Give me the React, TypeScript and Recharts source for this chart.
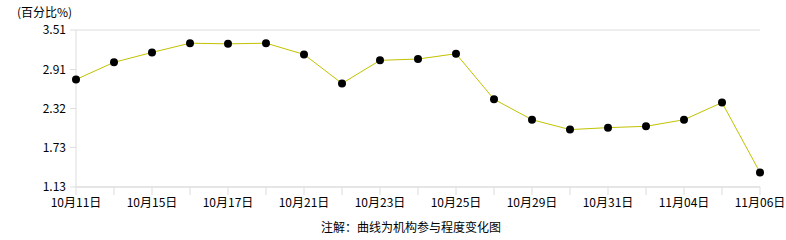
import React from 'react';
import { LineChart, Line, XAxis, YAxis, CartesianGrid } from 'recharts';

// trading days shown on the x axis (labels drawn on every other one)
const dates = [
  '10月11日', '10月14日', '10月15日', '10月16日', '10月17日', '10月18日',
  '10月21日', '10月22日', '10月23日', '10月24日', '10月25日', '10月28日',
  '10月29日', '10月30日', '10月31日', '11月01日', '11月04日', '11月05日', '11月06日',
];
const participation = [
  2.76, 3.02, 3.17, 3.31, 3.30, 3.31, 3.14, 2.70, 3.05, 3.07,
  3.15, 2.46, 2.15, 2.00, 2.03, 2.05, 2.15, 2.41, 1.35,
];
const yTicks = [1.13, 1.73, 2.32, 2.91, 3.51];

const data = dates.map((d, i) => ({ date: d, value: participation[i] }));

const font = '"Noto Sans CJK SC", "DejaVu Sans", sans-serif';
const gridColor = '#dddddd';

const App = () => {
  return (
    <div style={{ position: 'absolute', left: 0, top: 0, width: 786, height: 240, background: '#fff', fontFamily: font }}>
      <div style={{ position: 'absolute', left: 17, top: 3, fontSize: 12, color: '#000' }}>(百分比%)</div>
      <LineChart width={786} height={240} data={data} margin={{ top: 30, right: 26, bottom: 23, left: 0 }}>
        <CartesianGrid vertical={false} stroke={gridColor} />
        <XAxis
          dataKey="date"
          interval={0}
          tickFormatter={(v, i) => (i % 2 === 0 ? v : '')}
          stroke={gridColor}
          tickSize={8}
          tickMargin={3}
          tick={{ fill: '#000', fontSize: 12, fontFamily: font }}
          padding={{ left: 0, right: 0 }}
        />
        <YAxis
          yAxisId="left"
          domain={[1.13, 3.51]}
          ticks={yTicks}
          width={76}
          stroke={gridColor}
          tickSize={6}
          tickMargin={4}
          tick={{ fill: '#000', fontSize: 12, fontFamily: font }}
          allowDataOverflow
        />
        <YAxis yAxisId="right" orientation="right" width={0} tick={false} tickLine={false} stroke={gridColor} />
        <Line
          yAxisId="left"
          type="linear"
          dataKey="value"
          stroke="#c2c200"
          strokeWidth={1}
          dot={{ r: 4, fill: '#000', stroke: '#000', strokeWidth: 0 }}
          activeDot={false}
          isAnimationActive={false}
        />
      </LineChart>
      <div style={{ position: 'absolute', left: 0, width: 822, top: 218, textAlign: 'center', fontSize: 12, color: '#000' }}>
        注解：曲线为机构参与程度变化图
      </div>
    </div>
  );
};

export default App;
